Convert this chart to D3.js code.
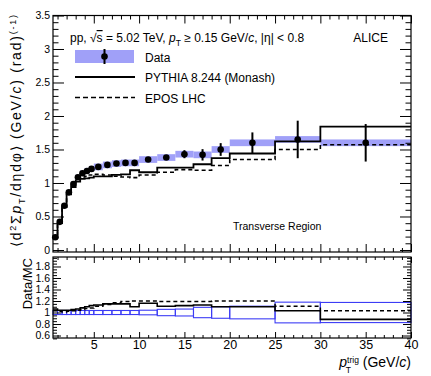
<!DOCTYPE html>
<html>
<head>
<meta charset="utf-8">
<script src="https://cdn.jsdelivr.net/npm/d3@7"></script>
<style>
body { margin: 0; background: #fff; }
text { font-family: "Liberation Sans", Arial, Helvetica, sans-serif; fill: #000; }
</style>
</head>
<body>
<div id="chart"></div>
<script>
// bin edges in pT trig (GeV/c)
var edges = [0.5, 1, 1.5, 2, 2.5, 3, 3.5, 4, 4.5, 5, 6, 7, 8, 9, 10, 12, 14, 16, 18, 20, 25, 30, 40];

var dataVal  = [0.19, 0.42, 0.66, 0.86, 0.985, 1.085, 1.145, 1.18, 1.21, 1.24, 1.27, 1.29, 1.30, 1.30, 1.35, 1.38, 1.43, 1.42, 1.50, 1.60, 1.65, 1.60];
var dataStat = [0.004, 0.005, 0.006, 0.007, 0.008, 0.008, 0.009, 0.01, 0.01, 0.01, 0.012, 0.014, 0.016, 0.02, 0.02, 0.03, 0.06, 0.085, 0.095, 0.155, 0.28, 0.28];
var dataSys  = [0.01, 0.02, 0.025, 0.03, 0.035, 0.04, 0.04, 0.045, 0.045, 0.05, 0.05, 0.05, 0.05, 0.05, 0.05, 0.05, 0.05, 0.05, 0.05, 0.05, 0.05, 0.05];

var pythiaVal = [0.18, 0.40, 0.64, 0.83, 0.94, 1.02, 1.06, 1.07, 1.08, 1.10, 1.10, 1.12, 1.13, 1.19, 1.16, 1.23, 1.23, 1.28, 1.37, 1.44, 1.62, 1.84];
var eposVal   = [0.185, 0.41, 0.65, 0.85, 0.96, 1.04, 1.09, 1.10, 1.12, 1.13, 1.12, 1.10, 1.09, 1.08, 1.12, 1.16, 1.20, 1.19, 1.26, 1.35, 1.50, 1.57];

var ratioPythia = [1.06, 1.04, 1.04, 1.04, 1.05, 1.06, 1.08, 1.10, 1.12, 1.13, 1.15, 1.15, 1.15, 1.10, 1.16, 1.11, 1.12, 1.13, 1.10, 1.10, 1.03, 0.88];
var ratioEpos   = [1.03, 1.02, 1.01, 1.02, 1.03, 1.04, 1.05, 1.07, 1.08, 1.11, 1.14, 1.17, 1.19, 1.20, 1.20, 1.19, 1.19, 1.19, 1.20, 1.20, 1.11, 1.03];
var ratioErr    = [0.035, 0.035, 0.035, 0.035, 0.035, 0.035, 0.035, 0.035, 0.035, 0.035, 0.035, 0.035, 0.035, 0.035, 0.04, 0.055, 0.06, 0.09, 0.10, 0.11, 0.18, 0.175];

var yTicks = [0, 0.5, 1, 1.5, 2, 2.5, 3, 3.5];
var rTicks = [0.6, 0.8, 1, 1.2, 1.4, 1.6, 1.8];
var xTicks = [5, 10, 15, 20, 25, 30, 35, 40];

var width = 431, height = 376;
var svg = d3.select('#chart').append('svg')
    .attr('width', width)
    .attr('height', height);

var left = 53, right = 411;
var top1 = 15.5, bot1 = 252, top2 = 257, bot2 = 338;

var x = d3.scaleLinear().domain([0.5, 40]).range([left, right]);
var y = d3.scaleLinear().domain([-0.03, 3.5]).range([bot1, top1]);
var yr = d3.scaleLinear().domain([0.557, 1.965]).range([bot2, top2]);

var bandColor = 'rgb(160,160,248)';

var bins = d3.range(dataVal.length).map(function(i) {
    return {
        x0: edges[i], x1: edges[i + 1], xc: (edges[i] + edges[i + 1]) / 2,
        v: dataVal[i], stat: dataStat[i], sys: dataSys[i], rerr: ratioErr[i]
    };
});

function stepPts(vals) {
    var pts = [];
    vals.forEach(function(v, i) {
        pts.push([edges[i], v]);
        pts.push([edges[i + 1], v]);
    });
    return pts;
}

// ---------- top panel ----------
var g1 = svg.append('g');

g1.selectAll('.sys')
    .data(bins)
    .enter().append('rect')
    .attr('x', function(d) { return x(d.x0); })
    .attr('width', function(d) { return x(d.x1) - x(d.x0); })
    .attr('y', function(d) { return y(d.v + d.sys); })
    .attr('height', function(d) { return y(d.v - d.sys) - y(d.v + d.sys); })
    .attr('fill', bandColor);

var line1 = d3.line().x(function(d) { return x(d[0]); }).y(function(d) { return y(d[1]); });

g1.append('path')
    .attr('d', line1(stepPts(pythiaVal)))
    .attr('fill', 'none').attr('stroke', '#000').attr('stroke-width', 1.8);

g1.append('path')
    .attr('d', line1(stepPts(eposVal)))
    .attr('fill', 'none').attr('stroke', '#000').attr('stroke-width', 1.6)
    .attr('stroke-dasharray', '4,3');

g1.selectAll('.err')
    .data(bins)
    .enter().append('line')
    .attr('x1', function(d) { return x(d.xc); })
    .attr('x2', function(d) { return x(d.xc); })
    .attr('y1', function(d) { return y(d.v + d.stat); })
    .attr('y2', function(d) { return y(d.v - d.stat); })
    .attr('stroke', '#000').attr('stroke-width', 2);

g1.selectAll('.pt')
    .data(bins)
    .enter().append('circle')
    .attr('cx', function(d) { return x(d.xc); })
    .attr('cy', function(d) { return y(d.v); })
    .attr('r', 3.3)
    .attr('fill', '#000');

// ---------- ratio panel ----------
var g2 = svg.append('g');

g2.selectAll('.rbox')
    .data(bins)
    .enter().append('rect')
    .attr('x', function(d) { return x(d.x0); })
    .attr('width', function(d) { return x(d.x1) - x(d.x0); })
    .attr('y', function(d) { return yr(1 + d.rerr); })
    .attr('height', function(d) { return yr(1 - d.rerr) - yr(1 + d.rerr); })
    .attr('fill', 'none')
    .attr('stroke', '#3c3cf5').attr('stroke-width', 1.1);

var line2 = d3.line().x(function(d) { return x(d[0]); }).y(function(d) { return yr(d[1]); });

g2.append('path')
    .attr('d', line2(stepPts(ratioPythia)))
    .attr('fill', 'none').attr('stroke', '#000').attr('stroke-width', 1.6);

g2.append('path')
    .attr('d', line2(stepPts(ratioEpos)))
    .attr('fill', 'none').attr('stroke', '#000').attr('stroke-width', 1.5)
    .attr('stroke-dasharray', '4,3');

// ---------- frames & axes ----------
function minors(lo, hi, step, majors) {
    var out = [];
    for (var k = Math.round(lo / step); k <= Math.round(hi / step); k++) {
        var v = +(k * step).toFixed(4);
        if (majors.indexOf(v) < 0) out.push(v);
    }
    return out;
}

function ticks(axis, scale, vals, size, tx, ty, fmt, fs) {
    var a = axis(scale).tickValues(vals).tickSize(size).tickPadding(3)
        .tickFormat(fmt || '');
    var g = svg.append('g').attr('transform', 'translate(' + tx + ',' + ty + ')').call(a);
    g.select('.domain').remove();
    g.selectAll('line').attr('stroke', '#000').attr('stroke-width', 1);
    g.selectAll('text').attr('font-size', fs || 10)
        .attr('font-family', '"Liberation Sans", Arial, sans-serif');
    return g;
}

var xMin = minors(1, 40, 1, xTicks);
var yMin = minors(0, 3.5, 0.1, yTicks);
var rMin = minors(0.55, 1.95, 0.05, rTicks);

// top panel
ticks(d3.axisBottom, x, xTicks, -8, 0, bot1);
ticks(d3.axisBottom, x, xMin, -4, 0, bot1);
ticks(d3.axisTop, x, xTicks, -8, 0, top1);
ticks(d3.axisTop, x, xMin, -4, 0, top1);
ticks(d3.axisLeft, y, yTicks, -11, left, 0, function(d) { return String(d); }, 10.5);
ticks(d3.axisLeft, y, yMin, -5.5, left, 0);
ticks(d3.axisRight, y, yTicks, -11, right, 0);
ticks(d3.axisRight, y, yMin, -5.5, right, 0);

// ratio panel
ticks(d3.axisBottom, x, xTicks, -6, 0, bot2, function(d) { return String(d); }, 12.5)
    .selectAll('text').attr('dy', '0.66em');
ticks(d3.axisBottom, x, xMin, -3, 0, bot2);
ticks(d3.axisTop, x, xTicks, -6, 0, top2);
ticks(d3.axisTop, x, xMin, -3, 0, top2);
ticks(d3.axisLeft, yr, rTicks, -8, left, 0, function(d) { return String(d); }, 10.5);
ticks(d3.axisLeft, yr, rMin, -4, left, 0);
ticks(d3.axisRight, yr, rTicks, -8, right, 0);
ticks(d3.axisRight, yr, rMin, -4, right, 0);

svg.append('rect').attr('x', left).attr('y', top1).attr('width', right - left).attr('height', bot1 - top1)
    .attr('fill', 'none').attr('stroke', '#000').attr('stroke-width', 1.2);
svg.append('rect').attr('x', left).attr('y', top2).attr('width', right - left).attr('height', bot2 - top2)
    .attr('fill', 'none').attr('stroke', '#000').attr('stroke-width', 1.2);

// ---------- texts ----------
function rich(t, parts, small, up) {
    var shift = 0;
    parts.forEach(function(p) {
        var s = t.append('tspan').text(p[0]);
        var want = 0;
        if (p[1] === 'i') s.attr('font-style', 'italic');
        if (p[1] === 'sub') { want = 3.5; s.attr('font-size', small); }
        if (p[1] === 'sup') { want = -(up || 5); s.attr('font-size', small); }
        if (p[1] === 'over') s.style('text-decoration', 'overline');
        if (want !== shift) { s.attr('dy', want - shift); shift = want; }
    });
}

var hdr = svg.append('text').attr('x', 70).attr('y', 42).attr('font-size', 12);
rich(hdr, [['pp, √'], ['s', 'over'], [' = 5.02 TeV, '], ['p', 'i'], ['T', 'sub'],
    [' ≥ 0.15 GeV/'], ['c', 'i'], [', |η| < 0.8']], 8.5);

svg.append('text').attr('x', 388).attr('y', 42).attr('text-anchor', 'end')
    .attr('font-size', 12).text('ALICE');

svg.append('text').attr('x', 233).attr('y', 230).attr('font-size', 10.5).text('Transverse Region');

// legend
var lg = svg.append('g');
lg.append('rect').attr('x', 75).attr('y', 50).attr('width', 59).attr('height', 13).attr('fill', bandColor);
lg.append('line').attr('x1', 104.5).attr('x2', 104.5).attr('y1', 49).attr('y2', 64)
    .attr('stroke', '#000').attr('stroke-width', 2);
lg.append('circle').attr('cx', 104.5).attr('cy', 56.5).attr('r', 3.3).attr('fill', '#000');
lg.append('line').attr('x1', 75).attr('x2', 135).attr('y1', 77).attr('y2', 77)
    .attr('stroke', '#000').attr('stroke-width', 1.8);
lg.append('line').attr('x1', 75).attr('x2', 135).attr('y1', 97.5).attr('y2', 97.5)
    .attr('stroke', '#000').attr('stroke-width', 1.6).attr('stroke-dasharray', '5,3');
['Data', 'PYTHIA 8.244 (Monash)', 'EPOS LHC'].forEach(function(s, i) {
    lg.append('text').attr('x', 145).attr('y', [62, 82, 102.5][i]).attr('font-size', 12).text(s);
});

// y title top
var yt = svg.append('text')
    .attr('transform', 'translate(21,247) rotate(-90)')
    .attr('font-size', 14)
    .attr('textLength', 232).attr('lengthAdjust', 'spacing');
rich(yt, [['⟨d'], ['2', 'sup'], ['Σ'], ['p', 'i'], ['T', 'sub'], ['/dηdφ⟩ (GeV/'], ['c', 'i'],
    [') (rad)'], ['(-1)', 'sup']], 9);

svg.append('text')
    .attr('transform', 'translate(32,258) rotate(-90)')
    .attr('text-anchor', 'end')
    .attr('font-size', 13).text('Data/MC');

// x title: p with superscript trig and subscript T
var xt = svg.append('text').attr('x', 411).attr('y', 367).attr('text-anchor', 'end').attr('font-size', 14);
rich(xt, [['p', 'i'], ['trig', 'sup'], [' (GeV/'], ['c', 'i'], [')']], 8.5, 4.5);
var p0 = xt.node().getStartPositionOfChar(0);
svg.append('text').attr('x', p0.x + 6.5).attr('y', 373).attr('font-size', 8.5).text('T');
</script>
</body>
</html>
